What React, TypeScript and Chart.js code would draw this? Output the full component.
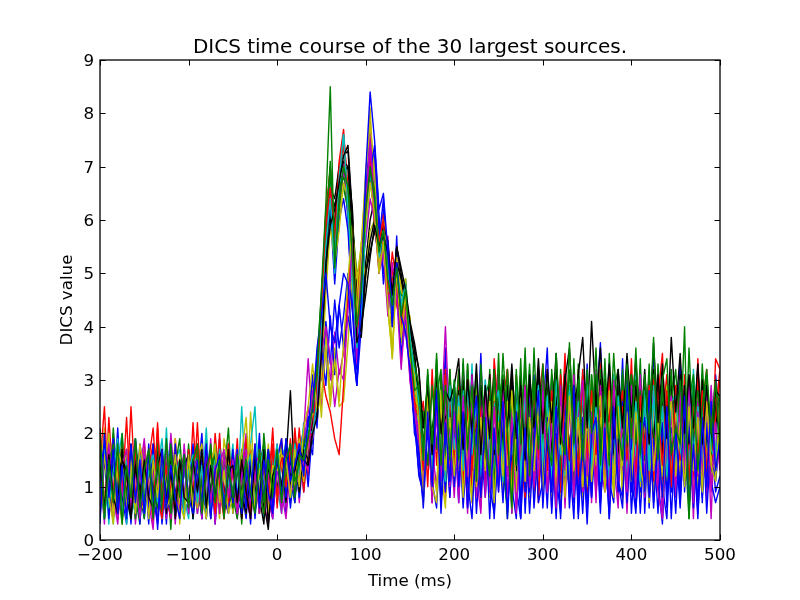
import React, { useEffect, useRef } from "react";
import { Chart, registerables } from "chart.js";

Chart.register(...registerables);

// Time axis: one sample every 5 ms from -200 to 500 ms (141 samples)
const times: number[] = Array.from({ length: 141 }, (_, i) => -200 + 5 * i);

const xTicks = [-200, -100, 0, 100, 200, 300, 400, 500];
const yTicks = [0, 1, 2, 3, 4, 5, 6, 7, 8, 9];
const titleText = "DICS time course of the 30 largest sources.";
const xLabel = "Time (ms)";
const yLabel = "DICS value";
const colorCycle = ["#0000ff", "#008000", "#ff0000", "#00bfbf", "#bf00bf", "#bfbf00", "#000000"];

const src00 = [
  2.0,0.4,1.6,0.7,2.1,0.5,1.3,0.3,1.7,0.9,
  0.4,1.8,0.6,1.5,0.3,1.2,1.9,0.5,1.4,0.8,
  1.7,0.4,1.1,2.0,0.6,1.5,0.3,1.3,0.7,1.8,
  0.5,1.4,0.9,0.4,1.7,0.8,2.0,0.6,1.4,1.7,
  0.7,1.5,0.5,1.8,1.0,1.6,2.1,1.3,2.6,3.3,
  4.2,6.0,6.8,5.2,6.2,7.0,6.0,4.3,3.6,4.1,
  6.6,7.3,6.8,5.0,6.2,4.7,4.2,5.5,3.9,4.8,
  3.4,3.0,1.8,1.0,3.1,0.9,3.3,1.5,3.6,1.0,
  2.7,1.2,3.3,0.8,2.9,1.6,3.5,1.0,2.6,0.7,
  3.0,1.3,0.6,3.2,1.1,2.8,0.5,2.2,3.1,0.9,
  2.4,3.6,1.2,2.9,0.6,3.3,1.5,0.4,2.7,1.1,
  3.3,0.9,2.5,3.7,1.3,0.7,2.9,1.5,3.4,0.8,
  2.8,1.2,3.2,0.5,2.4,3.5,1.1,2.7,0.6,3.0,
  1.4,3.4,0.9,2.6,1.3,3.3,0.7,2.9,1.2,3.1,
  2.2];
const src01 = [
  0.7,1.7,0.5,2.1,1.0,0.3,1.6,0.6,1.9,1.1,
  0.4,1.5,0.9,2.0,0.5,1.4,0.2,1.7,1.0,0.6,
  1.8,0.7,1.5,0.4,1.9,0.9,1.6,0.5,1.2,2.1,
  0.6,1.5,0.3,1.8,0.9,1.4,0.5,2.0,1.0,0.7,
  1.7,0.8,1.9,1.1,0.7,2.0,1.2,2.3,1.8,2.8,
  3.7,5.4,6.5,5.8,6.9,6.6,6.2,5.8,4.9,5.0,
  6.0,6.8,6.1,5.6,5.8,5.0,4.6,5.2,4.4,4.1,
  3.9,2.5,2.8,1.5,2.9,1.2,3.0,1.7,1.1,3.2,
  1.4,2.9,0.9,3.3,1.7,1.2,3.0,1.0,2.8,1.5,
  3.5,1.2,2.7,0.5,3.1,1.4,2.9,1.0,3.6,1.7,
  1.1,3.0,1.6,0.8,3.2,1.9,1.2,3.4,1.4,2.7,
  0.9,3.1,1.5,2.8,1.1,3.5,1.7,1.3,3.2,1.0,
  2.9,1.5,3.4,1.1,2.6,1.3,3.3,1.8,1.0,3.0,
  1.6,2.8,1.2,3.6,1.8,1.3,3.1,0.9,2.7,1.5,
  2.6];
const src02 = [
  1.5,0.6,2.3,1.0,0.4,1.9,0.7,2.5,0.9,0.5,
  1.8,1.1,0.3,2.1,0.7,1.5,0.5,1.9,0.8,1.6,
  0.6,2.2,0.9,0.5,1.8,0.7,2.0,1.0,0.4,1.5,
  0.8,1.9,0.4,1.4,0.7,1.8,0.5,1.5,0.9,2.1,
  0.6,1.6,1.1,1.9,0.8,1.5,2.0,1.2,2.4,3.1,
  4.5,6.2,6.9,5.9,7.1,7.7,6.4,4.9,4.0,5.4,
  6.2,6.9,6.0,5.5,6.1,4.7,5.1,4.4,4.0,4.6,
  3.3,2.4,2.2,2.6,1.0,3.2,1.4,2.6,0.8,2.9,
  1.6,3.2,1.1,2.6,0.7,3.0,1.5,2.8,1.0,3.4,
  2.4,1.3,3.2,0.9,2.7,1.6,0.8,2.9,1.2,2.5,
  3.3,1.5,0.9,2.8,1.7,3.5,1.1,2.5,1.4,3.0,
  0.7,2.6,1.5,3.3,1.2,2.4,3.0,0.8,2.7,1.6,
  3.4,1.2,2.5,1.5,3.1,0.9,2.7,3.5,1.3,2.3,
  2.8,1.0,3.1,1.7,1.3,3.4,1.5,2.6,1.1,3.4,
  3.2];
const src03 = [
  0.5,1.8,1.2,0.3,1.5,2.0,0.6,1.4,0.4,1.6,
  1.1,0.5,1.8,1.3,0.6,2.1,0.4,1.5,1.7,0.7,
  1.4,0.4,1.7,0.9,2.1,0.6,1.4,0.5,1.6,1.0,
  1.8,0.7,2.5,0.9,0.6,1.6,1.2,0.4,1.7,1.3,
  1.0,0.5,1.7,0.9,1.8,1.3,2.2,1.6,2.0,2.7,
  4.0,5.8,6.5,5.1,6.6,7.6,6.1,5.3,4.2,4.4,
  5.8,6.7,6.5,5.2,5.9,5.0,4.3,5.1,4.4,4.6,
  3.7,3.2,2.1,1.3,2.8,1.6,3.0,1.1,2.7,1.7,
  3.0,1.2,2.5,1.5,3.3,0.9,2.8,1.7,1.1,3.1,
  1.3,2.8,1.6,3.1,1.0,2.5,1.4,3.2,0.8,2.7,
  2.5,1.2,3.0,1.6,2.7,1.0,2.9,1.7,0.9,3.2,
  1.7,1.3,2.8,0.9,3.1,1.9,1.2,3.0,1.5,2.6,
  1.4,3.2,1.0,2.9,1.6,2.5,1.1,3.1,1.7,1.2,
  2.6,1.5,2.9,1.1,3.2,1.9,1.4,2.8,1.6,2.5,
  1.7];
const src04 = [
  1.4,0.3,1.9,0.7,1.5,0.4,1.2,1.7,0.6,1.3,
  1.9,0.7,0.2,1.6,0.8,0.5,2.0,0.9,0.4,1.4,
  0.7,1.7,0.5,1.4,0.8,1.9,0.3,1.6,0.6,1.4,
  1.5,0.4,1.3,2.0,0.5,1.2,1.6,0.7,0.3,1.5,
  0.8,1.7,0.6,1.4,1.9,0.7,1.7,2.5,1.9,2.9,
  3.9,5.6,6.7,5.4,6.3,7.1,6.4,4.8,3.5,4.6,
  6.1,7.9,6.0,5.1,5.9,4.4,4.7,5.0,4.0,3.9,
  3.2,2.7,1.5,0.9,2.9,1.7,1.0,2.2,4.0,2.0,
  0.8,2.7,1.5,3.2,1.0,2.5,0.6,2.9,1.2,2.3,
  3.1,1.1,2.6,0.5,2.2,2.9,0.9,2.4,1.3,3.2,
  1.0,2.5,0.6,2.1,3.0,1.2,2.7,0.8,2.3,1.3,
  2.8,0.7,3.2,1.4,0.9,2.6,1.5,0.6,2.9,1.1,
  2.4,1.4,3.1,0.9,2.7,1.2,2.3,0.4,2.6,1.6,
  1.1,2.9,1.5,2.5,0.9,3.2,1.2,2.4,0.4,2.7,
  2.1];
const src05 = [
  1.2,2.1,0.5,1.5,0.6,1.8,1.3,0.4,1.6,0.7,
  1.4,0.6,1.7,0.4,1.3,1.5,0.7,1.9,0.3,1.6,
  1.3,0.5,1.5,1.8,0.7,1.6,1.2,0.4,1.9,1.4,
  0.7,1.7,1.4,0.5,2.4,0.9,1.5,0.6,1.8,0.8,
  1.6,0.9,1.8,0.7,1.7,1.1,1.9,1.7,2.6,2.2,
  3.4,5.3,6.4,5.9,6.0,7.0,6.6,5.6,4.8,5.5,
  6.8,8.1,6.4,5.3,6.0,5.2,4.4,5.4,4.8,4.2,
  4.2,2.6,2.6,1.4,2.6,0.8,3.1,1.3,0.6,2.8,
  1.1,2.4,0.7,2.9,1.4,1.0,2.7,1.6,0.8,3.0,
  1.5,0.9,2.8,1.3,2.3,0.7,2.6,1.4,2.9,1.1,
  2.2,2.7,0.8,2.4,1.3,3.0,0.9,2.2,2.6,1.2,
  2.9,1.0,2.3,1.2,2.7,1.5,0.9,2.8,1.6,2.5,
  1.3,2.6,0.8,3.0,1.5,1.0,2.8,1.3,2.5,1.5,
  2.3,1.2,2.7,1.4,2.6,1.0,2.9,1.6,1.1,2.8,
  1.4];
const src06 = [
  1.3,0.5,1.7,0.8,0.4,1.5,0.7,1.8,0.5,1.4,
  0.7,1.6,0.9,0.4,1.5,0.6,1.7,0.8,1.4,0.5,
  1.5,0.7,1.8,0.6,1.3,0.4,1.6,0.8,1.5,0.6,
  1.4,0.5,1.2,1.6,0.6,1.5,0.8,0.3,1.7,0.9,
  1.6,0.7,1.5,2.8,1.0,1.7,1.4,1.6,2.3,2.5,
  3.6,5.1,6.6,6.4,7.0,7.2,7.3,6.0,4.6,4.2,
  5.2,6.0,6.4,5.9,5.4,5.5,4.5,5.3,4.9,4.4,
  3.9,3.6,2.4,2.3,2.1,2.1,2.6,2.5,1.6,3.0,
  2.0,2.2,2.9,1.3,3.1,1.9,2.1,2.8,1.6,2.7,
  1.7,3.0,1.4,2.6,1.6,3.1,1.3,2.7,1.9,3.2,
  1.5,2.8,1.8,3.2,1.4,2.9,1.7,2.7,1.3,3.1,
  2.6,1.6,3.0,1.8,2.8,1.5,2.9,1.7,2.7,1.4,
  3.1,1.9,1.6,2.9,1.8,3.2,1.5,2.7,1.7,2.9,
  1.9,3.1,1.6,2.8,1.8,3.2,1.4,2.7,1.7,2.6,
  2.5];
const src07 = [
  1.7,0.7,1.5,0.4,1.9,0.8,0.3,1.4,0.6,1.8,
  1.3,0.5,1.6,0.7,1.4,0.3,1.8,0.8,0.6,1.5,
  0.5,1.4,0.8,1.7,0.4,1.5,0.7,1.9,0.9,0.6,
  1.6,0.8,0.5,1.5,0.9,0.6,1.8,1.0,0.5,1.6,
  1.4,0.8,1.6,0.6,1.5,1.8,0.9,1.9,1.6,3.1,
  3.6,4.8,6.2,4.8,6.0,6.4,5.8,4.4,3.2,4.8,
  6.7,7.4,7.2,5.6,6.4,4.9,4.0,5.7,3.7,4.3,
  3.6,2.3,1.2,0.9,2.4,1.3,2.7,0.7,2.1,1.0,
  2.3,0.9,2.6,0.6,1.9,2.4,0.8,2.0,2.7,0.7,
  1.8,2.5,0.5,2.1,1.0,0.4,2.3,1.1,2.6,0.8,
  2.0,0.6,2.4,1.2,0.5,2.2,0.9,2.7,0.4,1.9,
  2.3,0.8,2.0,0.5,2.5,1.1,0.7,2.2,1.0,2.6,
  0.5,1.9,0.9,2.4,0.6,2.0,1.1,0.3,2.2,0.9,
  2.5,0.7,2.1,1.0,2.3,0.5,1.9,0.9,2.4,1.1,
  1.9];
const src08 = [
  0.6,1.6,0.8,2.0,0.5,1.3,1.7,0.7,1.5,0.4,
  1.6,0.8,0.6,1.8,0.9,1.5,0.4,1.4,1.9,0.8,
  0.7,1.7,0.9,0.5,1.5,0.8,1.8,0.6,1.4,1.6,
  0.8,0.4,1.6,0.9,1.7,0.7,1.4,1.8,0.6,1.5,
  0.9,1.8,0.8,1.6,1.0,1.9,1.3,2.2,2.1,3.4,
  4.6,5.9,7.0,5.5,6.5,6.8,6.7,5.9,5.0,5.2,
  6.1,6.8,6.4,5.4,5.7,5.3,4.7,4.7,4.3,4.9,
  3.7,3.2,2.5,2.4,1.4,2.9,1.7,3.1,1.3,2.6,
  2.9,1.5,2.5,1.1,3.0,1.7,2.7,1.2,3.2,1.6,
  2.6,3.1,1.2,2.4,2.8,1.4,3.3,1.9,1.3,2.9,
  1.8,1.3,3.1,2.6,1.2,2.8,1.6,3.0,1.9,1.5,
  2.9,1.8,1.4,3.2,2.0,1.3,2.8,1.9,3.1,1.6,
  2.0,3.0,1.5,2.7,1.3,3.1,1.8,2.8,1.4,2.6,
  3.2,1.7,2.8,1.5,2.9,1.9,1.6,3.0,2.0,1.7,
  2.7];
const src09 = [
  1.4,2.5,0.7,1.6,0.4,1.9,0.8,1.5,0.5,1.7,
  0.7,1.4,1.8,0.6,1.5,0.8,0.4,1.6,0.9,0.6,
  1.7,0.8,2.2,0.6,1.4,0.5,1.6,0.9,0.7,1.8,
  0.6,1.5,0.8,1.9,0.4,1.3,1.6,0.7,1.4,0.5,
  1.5,1.9,0.8,1.7,1.0,2.1,0.9,1.8,2.2,2.8,
  4.3,6.0,7.0,5.6,7.0,7.6,6.6,5.2,4.2,4.5,
  5.9,7.3,5.8,5.5,5.6,4.5,5.4,4.8,4.1,4.8,
  3.4,2.5,2.5,1.5,2.9,1.0,3.2,1.7,1.2,3.0,
  1.3,2.8,1.7,0.8,2.9,1.5,2.5,0.9,3.1,1.2,
  2.8,1.6,3.0,1.1,2.4,2.7,1.3,2.9,0.9,2.6,
  1.5,3.2,1.2,2.5,1.6,1.0,2.7,1.4,3.2,1.1,
  2.5,1.4,2.9,1.0,2.2,3.0,1.2,2.6,1.5,2.9,
  1.1,2.8,1.6,2.5,1.0,3.0,1.4,2.3,3.1,1.2,
  2.4,1.3,3.0,1.6,2.7,1.2,2.5,3.2,1.4,2.4,
  3.2];
const src10 = [
  0.7,1.5,0.3,1.8,0.8,0.6,1.6,0.4,1.4,0.8,
  1.5,0.5,1.3,1.7,0.4,1.4,0.7,1.6,0.5,1.3,
  0.8,1.5,0.5,1.6,0.9,0.6,1.4,1.7,0.5,1.2,
  1.5,0.7,1.4,0.6,1.8,2.5,0.7,1.3,0.5,1.6,
  0.8,1.5,1.8,0.9,1.6,0.8,1.8,1.6,2.2,2.6,
  4.0,5.6,6.8,5.0,6.7,7.6,6.2,5.1,3.8,4.4,
  6.0,6.9,6.2,5.8,5.3,5.1,4.4,5.2,4.3,4.4,
  3.6,3.2,2.0,1.5,2.7,1.3,2.6,1.6,1.0,2.8,
  1.6,2.6,1.2,3.1,1.4,2.4,1.1,2.9,1.7,1.3,
  2.7,1.5,2.4,1.2,2.9,1.7,1.0,2.8,1.6,2.5,
  1.3,2.6,1.6,2.9,1.1,2.4,2.8,1.4,2.6,1.6,
  2.7,1.3,2.5,1.6,3.0,1.1,2.3,2.7,1.3,2.8,
  1.6,2.5,1.2,2.7,1.7,1.4,2.9,1.5,2.6,1.3,
  2.8,1.5,2.5,1.3,2.7,1.7,2.9,1.2,2.5,1.6,
  2.6];
const src11 = [
  1.6,0.6,1.3,1.9,0.4,1.4,0.7,1.7,0.3,1.3,
  0.6,1.7,0.4,1.2,1.6,0.7,1.4,0.3,1.5,0.8,
  1.4,0.6,1.6,0.4,1.5,0.8,0.6,1.8,0.8,0.5,
  1.3,1.7,0.6,1.4,0.5,1.6,0.7,1.5,0.4,1.2,
  1.8,0.6,1.6,0.8,1.5,1.0,2.0,3.4,2.1,3.2,
  2.5,3.6,3.0,3.9,3.1,3.5,4.6,5.6,3.9,5.2,
  5.6,6.4,6.0,5.6,5.0,5.7,4.3,5.0,3.9,4.7,
  3.0,2.2,1.9,1.1,2.5,0.7,2.9,1.2,2.3,0.8,
  2.7,1.4,3.2,0.9,2.4,1.2,0.5,2.6,1.3,2.9,
  1.0,2.3,1.2,3.0,0.7,2.5,1.5,0.9,2.8,1.4,
  2.5,1.1,2.9,1.5,0.8,2.7,1.3,3.1,1.0,2.3,
  1.3,2.8,0.8,2.3,1.4,2.9,1.0,2.4,1.2,3.1,
  2.1,0.9,2.7,1.4,2.9,0.8,2.5,1.3,2.8,1.0,
  2.4,1.4,2.9,1.0,2.3,1.2,2.7,0.7,2.2,3.0,
  1.4];
const src12 = [
  0.5,1.4,2.0,0.7,1.5,0.3,1.7,0.8,1.4,0.6,
  1.7,0.8,0.5,1.5,0.7,1.8,0.9,0.6,1.6,0.4,
  1.5,0.8,0.6,1.7,0.7,1.4,1.8,0.5,1.3,1.5,
  0.5,1.6,0.9,0.7,1.4,0.6,1.7,0.8,1.5,0.7,
  1.4,1.7,0.7,1.5,0.9,1.6,1.2,1.6,2.9,3.3,
  2.3,3.9,2.7,3.6,2.5,2.6,3.7,5.1,4.5,5.6,
  4.9,5.8,6.0,5.1,5.5,4.3,3.5,5.1,3.7,4.9,
  3.5,2.9,2.2,1.2,2.8,0.9,2.6,0.7,3.1,1.2,
  2.4,1.0,2.9,1.5,0.7,2.7,1.3,2.5,0.9,3.0,
  2.2,1.1,2.6,0.6,2.3,1.3,2.8,0.8,2.1,2.7,
  1.0,2.4,1.4,2.8,0.7,2.2,1.1,2.6,1.5,0.8,
  2.7,1.2,2.3,0.9,2.9,1.5,1.0,2.5,0.7,2.3,
  1.2,2.9,1.0,2.2,0.7,2.6,1.4,2.4,1.1,2.8,
  0.9,2.3,1.3,2.7,0.8,2.2,2.6,1.1,2.3,1.2,
  2.2];
const src13 = [
  1.5,0.6,1.4,0.4,1.7,0.7,1.3,0.5,1.6,0.8,
  0.5,1.4,0.7,1.7,0.6,1.3,1.5,0.4,1.2,1.6,
  1.3,0.4,1.5,0.7,1.6,0.5,1.2,1.4,0.6,1.7,
  0.7,1.4,0.4,1.2,1.5,0.5,1.3,0.7,0.2,1.4,
  0.9,1.6,0.7,1.5,0.8,1.8,1.3,1.5,2.1,2.3,
  3.4,5.0,6.0,6.3,6.6,6.9,7.0,6.2,4.2,3.9,
  5.0,5.4,5.8,5.3,5.9,5.2,4.6,5.5,5.0,4.5,
  4.0,3.6,3.2,1.6,2.5,1.4,2.8,1.8,1.9,2.1,
  2.8,1.7,3.0,1.4,2.6,1.6,2.9,1.3,2.7,1.8,
  1.5,2.7,1.8,3.1,1.3,2.6,1.7,3.0,1.6,2.5,
  2.9,1.6,2.6,1.4,2.8,1.9,1.5,2.9,1.7,2.7,
  1.6,2.7,1.7,3.0,1.4,2.6,2.9,1.5,2.5,2.8,
  1.8,1.5,2.8,1.7,3.1,1.4,2.6,1.7,2.9,1.6,
  2.7,1.8,1.4,2.9,1.7,2.6,1.5,2.8,1.8,2.5,
  1.5];
const src14 = [
  1.3,1.8,0.4,1.4,0.7,1.6,0.5,1.2,1.9,0.6,
  1.4,0.3,1.6,0.8,0.5,1.5,0.7,1.8,0.6,1.3,
  1.6,0.7,1.3,0.4,1.7,0.8,0.6,1.5,0.5,1.4,
  0.8,1.6,0.6,1.3,0.3,1.5,0.7,1.4,0.8,0.4,
  1.7,0.9,1.5,0.7,1.6,0.8,1.9,1.0,2.1,3.5,
  3.0,4.1,3.3,4.5,3.6,4.2,5.0,4.3,2.9,4.0,
  6.2,7.6,7.0,5.8,5.0,5.6,4.1,4.9,3.5,4.1,
  3.3,2.2,1.3,0.8,2.3,1.1,0.6,2.1,0.9,2.5,
  1.0,2.2,0.6,1.9,2.4,0.5,1.8,0.8,2.3,0.4,
  1.9,0.7,2.5,1.0,0.4,2.2,0.9,2.7,0.6,1.8,
  2.4,0.9,2.0,0.4,2.2,1.1,2.6,0.7,1.8,0.5,
  2.1,0.8,2.7,1.0,2.0,0.6,2.3,1.1,0.8,2.5,
  0.9,2.2,0.5,1.9,2.5,0.7,2.0,1.0,0.4,2.1,
  1.8,0.6,2.3,0.9,2.0,0.7,2.4,0.5,1.9,0.9,
  1.2];
const src15 = [
  1.2,0.4,1.7,1.4,0.6,2.0,0.5,1.5,0.8,0.3,
  1.5,0.7,1.3,1.8,0.5,1.2,1.6,0.6,1.4,0.7,
  0.6,1.6,0.8,1.4,0.5,1.8,0.9,0.7,1.6,0.8,
  1.4,0.6,1.7,0.7,1.3,1.5,0.5,1.6,0.9,0.6,
  1.5,0.8,1.7,1.0,1.9,0.9,1.8,2.1,2.0,3.1,
  4.3,5.7,6.9,5.2,6.2,7.0,6.2,5.0,4.0,4.6,
  6.1,6.9,6.6,5.5,5.9,4.7,4.9,5.1,4.2,4.4,
  3.5,2.7,2.7,1.2,3.0,1.5,3.5,1.8,1.1,3.2,
  1.5,2.9,1.2,3.3,1.7,1.1,3.0,1.6,2.7,0.9,
  3.1,1.7,0.4,2.8,1.6,3.4,1.2,2.5,3.0,1.3,
  2.7,1.0,3.2,1.8,1.3,2.9,1.7,1.1,3.3,1.9,
  1.2,3.1,1.9,1.4,3.4,1.6,2.7,1.0,2.9,1.8,
  3.0,1.3,2.6,1.6,3.3,1.1,2.8,1.9,1.2,3.1,
  1.6,2.9,1.1,2.6,3.1,1.4,3.3,1.8,1.3,2.8,
  2.3];
const src16 = [
  1.8,0.7,1.4,0.5,1.6,0.9,2.3,0.6,1.5,0.8,
  0.6,1.5,2.1,0.8,0.4,1.4,0.7,1.7,0.9,0.5,
  1.4,0.7,1.7,0.9,0.6,1.5,0.8,2.0,0.4,1.3,
  1.6,0.6,1.4,0.8,1.7,0.7,1.5,0.5,1.3,1.8,
  0.7,1.4,1.7,0.9,2.1,1.2,1.4,1.3,2.5,2.4,
  3.2,2.7,2.4,1.9,1.6,2.9,4.6,5.9,4.3,5.4,
  6.0,6.7,6.2,5.3,5.9,4.6,5.0,5.2,3.9,4.5,
  3.3,2.5,2.3,1.3,3.0,1.1,2.5,1.5,3.2,1.0,
  2.3,2.9,1.3,2.5,0.9,3.1,1.6,2.6,1.1,2.8,
  1.4,2.6,3.2,1.2,2.3,1.0,2.9,1.5,2.5,0.7,
  2.8,1.4,2.5,1.1,3.1,1.6,1.0,2.7,1.3,3.0,
  1.6,2.7,1.1,2.5,1.4,3.2,1.2,2.3,2.8,1.3,
  2.6,0.9,2.9,1.5,2.4,1.2,3.0,1.0,2.7,1.7,
  1.3,2.7,1.6,2.5,1.2,3.1,1.5,2.6,1.4,2.3,
  3.0];
const src17 = [
  1.4,0.4,1.2,1.7,0.6,1.5,0.3,1.3,1.6,0.7,
  0.8,1.6,0.6,1.3,1.9,0.7,1.4,0.5,1.5,0.8,
  0.4,1.4,1.6,0.7,1.3,0.5,1.7,0.8,1.4,0.7,
  1.5,0.8,0.6,1.7,0.9,0.7,1.4,0.6,1.6,0.8,
  1.4,0.7,1.8,0.8,1.7,1.1,1.7,1.8,1.9,2.5,
  3.5,5.2,6.6,5.1,6.5,7.5,6.3,5.0,4.0,4.5,
  6.3,7.0,6.2,5.3,6.0,4.8,4.4,5.2,4.5,4.6,
  3.8,2.7,2.7,1.4,2.5,1.2,2.9,1.6,1.1,2.7,
  2.5,1.4,2.8,1.0,2.7,1.6,0.9,3.0,1.3,2.6,
  2.3,1.1,2.9,1.5,2.6,0.9,2.8,1.6,1.2,2.9,
  1.5,2.8,1.0,2.5,1.6,3.0,1.2,2.4,1.4,2.7,
  2.5,1.3,2.9,1.1,2.6,1.6,3.1,1.3,2.4,1.2,
  2.8,1.6,1.1,2.6,1.4,2.9,1.2,2.5,1.5,2.7,
  1.4,2.6,1.7,1.2,2.9,1.5,2.5,1.1,2.8,1.6,
  2.4];
const src18 = [
  0.6,1.5,0.8,0.4,1.8,0.9,0.5,1.6,0.7,1.4,
  1.6,0.5,1.3,0.7,1.7,0.4,1.4,0.8,0.5,1.8,
  0.8,1.5,0.5,1.3,0.7,1.6,0.4,1.4,1.7,0.7,
  1.3,0.5,1.5,0.8,0.4,1.4,1.6,0.7,1.3,0.5,
  1.6,0.9,0.4,1.4,0.8,1.7,1.2,1.8,1.9,2.6,
  3.6,5.5,6.6,5.6,6.4,6.9,6.4,5.0,3.3,4.7,
  6.2,7.7,6.2,5.4,5.7,4.5,4.8,5.3,3.8,4.1,
  3.0,2.4,2.1,1.0,2.7,0.7,3.0,1.3,2.5,0.9,
  2.9,1.1,2.3,0.5,2.6,1.4,3.2,0.8,2.1,2.8,
  0.9,2.9,1.3,2.4,0.6,2.7,1.1,3.1,1.0,2.3,
  3.0,0.9,2.3,1.2,2.8,0.6,2.5,1.4,2.9,0.9,
  1.1,2.5,0.7,2.9,1.6,0.9,2.7,1.3,2.3,0.5,
  2.5,1.2,3.0,0.8,2.3,2.7,1.0,3.1,1.3,2.4,
  0.8,2.8,1.2,2.3,0.4,2.6,1.6,1.1,2.9,1.4,
  2.6];
const src19 = [
  1.5,0.7,1.7,0.4,1.3,1.6,0.6,1.2,1.8,0.5,
  0.7,1.5,0.8,0.5,1.7,0.9,0.6,1.4,0.4,1.6,
  0.8,1.7,0.6,1.4,1.5,0.7,1.3,0.5,1.6,0.8,
  1.4,0.6,1.6,2.3,0.8,0.5,1.4,1.6,0.7,1.3,
  0.8,1.5,0.9,1.7,1.0,1.9,1.1,1.9,2.4,2.2,
  3.1,4.6,5.9,5.2,5.8,6.7,6.4,5.8,4.9,5.5,
  6.9,7.8,6.9,5.2,6.0,5.4,3.4,5.3,4.7,4.0,
  3.6,2.6,2.4,1.1,2.9,1.4,0.9,2.8,1.6,1.1,
  2.7,1.2,2.5,1.5,0.8,2.9,1.1,2.3,1.4,2.8,
  1.1,2.4,1.4,2.8,0.9,2.2,2.7,1.0,2.5,1.3,
  2.3,1.2,2.7,0.9,2.5,1.5,1.0,2.8,1.3,2.3,
  1.0,2.6,1.4,2.3,1.1,2.8,0.8,2.4,1.4,2.7,
  2.1,1.0,2.5,1.3,2.7,0.9,2.3,1.2,2.9,1.1,
  2.5,1.3,2.2,1.0,2.6,1.4,0.9,2.7,1.5,1.3,
  2.3];
const src20 = [
  1.2,1.6,0.6,1.4,0.7,1.7,0.8,0.4,1.5,0.9,
  1.4,0.6,1.5,0.8,1.6,0.5,1.3,1.5,0.7,1.4,
  1.6,0.8,1.4,0.6,1.5,0.9,0.7,1.6,0.8,1.4,
  0.7,1.5,0.9,0.5,1.4,0.8,1.6,0.6,1.4,0.8,
  1.5,0.8,1.7,1.0,1.6,0.9,1.7,1.5,2.2,2.4,
  3.7,5.3,6.4,5.9,6.8,7.1,7.0,5.7,3.9,3.8,
  5.0,5.6,6.0,5.4,5.9,5.6,4.6,5.2,4.9,4.6,
  4.0,3.4,2.8,1.8,2.7,1.6,2.9,2.0,2.3,2.5,
  1.8,2.8,1.6,3.0,1.9,2.1,2.9,1.8,3.1,1.6,
  2.7,1.8,2.9,1.5,2.8,1.9,1.6,3.0,1.7,2.7,
  1.9,3.0,1.6,2.7,1.8,3.1,1.5,2.6,2.9,1.7,
  2.8,1.7,2.7,1.5,3.0,1.9,1.6,2.9,1.8,2.7,
  1.7,2.9,1.9,1.5,2.8,1.8,3.1,1.6,2.6,2.9,
  1.9,1.6,2.9,1.8,2.7,1.5,3.0,1.9,1.7,2.8,
  1.8];
const src21 = [
  0.4,1.6,0.7,1.9,0.8,0.5,1.5,0.7,1.8,0.3,
  1.5,0.6,1.8,0.2,1.4,0.8,0.5,1.7,0.8,1.5,
  0.6,1.8,0.8,1.5,0.4,1.6,0.7,1.4,0.8,0.5,
  1.7,0.8,1.4,0.6,1.6,0.4,1.5,0.8,1.7,0.6,
  1.5,1.9,0.8,1.6,0.7,1.8,1.3,2.0,3.1,2.1,
  3.6,2.9,4.2,3.1,4.4,3.6,4.2,3.7,2.9,4.6,
  6.0,6.9,7.4,6.1,4.8,5.6,4.0,4.8,3.4,4.2,
  3.5,2.0,1.7,0.6,2.1,0.9,2.6,0.5,2.0,0.8,
  2.2,0.7,2.5,1.1,0.4,2.1,0.8,2.8,1.0,0.5,
  1.9,2.6,0.6,1.8,2.2,0.4,2.0,0.9,2.4,0.7,
  1.1,2.3,0.5,2.0,1.0,2.7,0.6,1.9,0.8,2.3,
  0.6,1.9,2.4,0.7,1.8,0.4,2.2,0.9,2.6,0.7,
  2.0,0.6,1.7,2.3,0.8,1.9,0.5,2.2,0.9,1.8,
  0.5,2.1,1.0,2.3,0.6,1.8,0.8,2.2,1.1,0.7,
  1.0];
const src22 = [
  1.7,0.6,1.3,1.8,0.5,1.4,0.8,1.6,0.4,1.5,
  0.7,1.7,0.9,0.6,1.5,0.8,1.8,0.7,1.4,0.5,
  1.5,0.6,1.7,1.0,0.7,1.3,1.6,0.6,1.5,0.9,
  0.6,1.4,0.8,1.6,0.7,1.7,0.9,0.5,1.5,0.8,
  1.6,1.0,1.2,1.8,1.1,1.4,1.8,2.0,2.5,3.2,
  4.4,5.8,7.1,5.7,6.6,6.8,6.6,5.5,4.4,4.9,
  6.0,7.0,6.5,5.4,5.8,5.0,4.9,4.8,4.6,4.5,
  3.7,3.3,2.9,1.7,3.1,1.6,2.7,3.2,1.4,2.9,
  2.0,3.2,1.4,2.8,1.8,3.1,1.3,2.7,3.0,1.7,
  2.9,1.6,3.2,2.0,1.4,2.8,1.9,3.3,1.5,2.7,
  1.8,3.1,2.0,1.4,2.9,1.7,3.2,1.9,1.5,3.0,
  2.7,1.6,3.1,1.9,2.9,1.4,2.8,3.2,1.7,2.6,
  3.1,1.8,2.8,1.5,3.0,2.0,1.6,2.9,1.9,3.2,
  1.7,3.0,1.9,0.4,2.1,2.8,2.0,3.1,1.6,2.9,
  2.5];
const src23 = [
  1.3,0.5,1.7,0.7,1.5,0.4,1.4,0.8,1.7,0.6,
  1.5,0.8,0.5,2.2,0.7,1.6,0.9,0.6,1.5,0.8,
  0.7,1.4,1.8,0.6,1.2,1.6,0.5,1.5,0.9,0.7,
  1.4,0.6,1.5,0.9,0.5,1.6,0.8,1.4,0.6,1.7,
  0.8,1.6,1.0,1.7,1.3,1.5,1.4,1.9,2.0,3.0,
  4.2,5.9,6.6,5.7,6.9,7.4,6.3,4.9,3.7,4.7,
  6.1,7.1,6.3,5.6,6.0,4.7,4.9,4.8,4.0,4.7,
  3.5,2.6,2.4,1.3,2.8,1.0,2.9,1.6,1.2,2.7,
  1.5,2.7,1.0,3.0,1.3,2.5,0.8,2.8,1.6,2.6,
  1.2,2.9,1.7,1.0,3.1,1.4,2.6,1.1,2.8,1.5,
  2.6,1.3,2.8,1.6,0.9,2.9,1.5,2.5,1.2,3.2,
  1.4,2.8,1.6,2.7,1.0,2.3,2.9,1.2,2.5,1.5,
  2.3,1.2,2.7,1.6,2.9,1.1,2.4,1.4,2.8,1.0,
  2.9,1.5,2.6,1.1,2.5,1.6,2.8,1.3,2.3,2.7,
  2.0];
const src24 = [
  0.8,1.7,0.6,1.3,1.9,0.4,1.5,0.8,0.5,1.6,
  0.5,1.3,1.6,0.7,1.4,1.7,0.6,1.2,1.5,0.4,
  1.3,1.6,0.7,1.4,0.5,1.5,0.8,1.7,0.6,1.4,
  0.8,1.5,0.6,1.3,1.6,0.7,1.4,1.7,0.5,1.2,
  1.8,1.0,1.6,0.8,1.8,1.2,1.5,2.1,2.0,2.6,
  3.9,5.5,6.4,5.1,6.8,7.6,6.2,4.8,3.6,4.3,
  5.9,6.7,6.4,5.3,5.8,5.0,4.3,5.1,4.4,4.8,
  3.8,3.1,2.6,1.5,2.6,1.3,3.0,1.8,1.2,2.9,
  1.7,2.7,1.3,2.9,1.6,2.6,1.2,3.0,1.5,2.5,
  2.8,1.4,2.5,1.6,3.0,1.2,2.7,1.7,1.4,2.9,
  1.6,2.7,1.3,3.0,1.8,1.2,2.8,1.5,2.6,1.7,
  2.9,1.5,2.5,1.3,2.8,1.8,1.4,2.7,1.7,2.9,
  1.4,2.6,1.7,2.8,1.3,2.7,1.6,2.5,1.2,2.6,
  2.7,1.7,1.3,2.8,1.6,2.5,1.4,2.9,1.7,1.5,
  2.5];
const src25 = [
  1.5,0.5,1.8,0.8,0.3,1.4,1.7,0.6,1.3,0.4,
  1.7,0.8,0.5,1.5,0.7,1.8,0.4,1.4,0.6,1.5,
  0.5,1.3,1.5,0.4,1.7,0.7,1.4,0.5,1.6,0.8,
  1.5,0.5,1.2,1.7,0.7,1.3,0.5,1.5,0.8,0.4,
  1.4,0.5,1.7,0.9,1.0,1.2,1.5,1.3,2.8,2.5,
  3.5,4.0,3.4,2.5,3.2,3.0,4.3,5.6,3.8,5.3,
  6.0,7.4,6.0,5.0,5.4,4.2,5.2,4.6,3.2,4.3,
  3.3,2.3,2.0,0.9,2.6,0.7,2.4,1.1,2.9,1.0,
  2.4,0.7,2.7,1.2,3.1,0.8,2.2,2.8,0.9,2.5,
  1.1,3.0,0.8,2.3,0.5,2.1,2.9,1.0,2.5,1.2,
  2.8,0.9,2.2,0.6,2.9,1.3,2.6,0.8,2.3,3.0,
  1.2,2.4,0.9,2.8,1.4,0.7,3.0,1.1,2.3,0.9,
  2.9,0.8,2.3,1.2,2.6,1.5,0.9,0.4,2.2,2.7,
  1.0,2.5,1.3,3.0,0.7,2.4,1.2,2.8,0.9,2.2,
  1.3];
const src26 = [
  0.7,1.6,0.8,0.3,1.7,1.4,0.6,1.5,0.5,1.8,
  1.3,0.4,1.5,0.8,1.7,0.6,0.8,1.6,0.7,0.4,
  1.6,0.6,1.4,0.8,0.4,1.5,1.7,0.7,1.3,0.5,
  0.8,1.6,0.7,1.4,1.8,0.6,1.3,1.5,0.5,1.4,
  1.3,1.6,1.5,0.8,1.7,1.0,2.1,2.5,3.3,2.4,
  2.7,3.6,2.5,3.4,2.6,3.7,4.9,5.9,4.2,5.3,
  5.9,6.7,6.1,5.0,5.6,4.4,3.4,5.1,3.8,4.6,
  3.4,3.1,2.2,0.7,2.7,1.0,0.7,2.5,1.3,2.3,
  1.2,2.5,0.8,2.1,2.8,1.0,2.3,1.3,2.6,0.7,
  2.2,1.2,2.6,0.8,2.1,2.8,1.1,2.3,1.3,2.5,
  0.9,2.1,2.6,1.2,2.2,0.8,2.7,1.3,2.3,1.0,
  2.3,1.1,2.1,2.7,0.9,2.2,1.2,2.5,1.0,2.4,
  1.1,2.4,1.4,0.9,2.7,1.3,2.3,0.8,2.1,2.6,
  1.2,2.2,1.0,2.5,1.3,2.3,0.9,2.6,1.4,1.1,
  2.6];
const src27 = [
  1.4,0.6,1.6,0.8,0.5,1.5,1.3,0.4,1.4,0.7,
  1.5,0.8,0.6,1.4,1.7,0.7,1.3,0.5,1.5,0.8,
  0.7,1.5,0.9,1.7,0.6,1.4,0.8,1.5,0.5,1.3,
  1.4,0.7,1.5,0.9,0.4,1.6,0.7,1.7,0.3,1.2,
  1.5,1.0,1.8,1.2,1.3,1.7,1.5,1.4,2.0,2.3,
  3.5,5.2,5.9,6.2,6.7,7.2,7.4,6.1,3.7,4.0,
  4.6,5.3,5.9,5.5,5.7,5.4,4.6,5.5,5.1,4.7,
  4.1,3.7,3.2,2.1,2.9,1.6,3.1,2.0,2.8,2.6,
  2.9,3.4,1.7,3.0,2.0,3.3,1.6,2.9,1.9,3.2,
  1.8,3.0,2.1,3.3,1.9,2.9,1.5,3.1,2.1,3.4,
  2.0,3.2,2.2,3.5,1.8,3.0,3.6,2.0,3.1,3.8,
  2.1,4.1,2.5,3.6,2.2,3.3,1.9,3.2,2.1,3.5,
  2.3,3.4,2.0,3.2,1.8,3.7,2.2,3.3,1.9,3.8,
  2.4,3.5,2.0,3.1,2.1,3.3,1.8,2.9,2.0,2.8,
  2.7];
const src28 = [
  0.3,2.0,0.8,1.7,0.5,1.4,0.4,1.8,0.7,1.5,
  0.5,1.6,0.8,0.3,1.7,0.6,1.4,0.8,0.4,1.6,
  0.8,0.5,1.5,0.7,1.8,0.4,1.3,1.6,0.6,1.4,
  0.7,1.7,0.5,1.4,0.8,1.8,0.6,1.5,0.9,0.5,
  1.6,0.8,1.9,1.1,1.4,1.8,1.2,2.3,2.4,3.6,
  4.2,5.0,4.0,3.7,4.4,5.0,4.8,3.6,2.9,4.6,
  6.9,8.4,7.5,6.2,6.5,5.4,4.3,5.2,4.2,3.9,
  3.2,2.2,1.6,0.7,2.4,1.0,2.8,0.7,2.2,1.1,
  2.9,1.0,2.4,0.6,2.0,2.7,0.8,2.3,0.4,2.1,
  0.9,2.6,0.4,1.9,2.4,0.7,2.1,0.5,1.8,2.8,
  0.6,2.0,0.9,2.5,0.4,2.2,0.8,2.9,0.5,1.9,
  0.3,2.0,2.3,0.7,2.1,0.4,2.5,1.1,0.6,3.0,
  1.2,0.5,2.2,0.9,2.8,0.6,1.9,0.8,2.5,0.4,
  2.1,0.9,2.7,0.6,1.8,0.4,2.3,1.0,2.6,1.3,
  1.9];
const src29 = [
  2.1,0.4,1.5,0.7,1.8,0.3,1.4,0.8,1.9,0.6,
  1.3,1.7,0.4,1.5,0.7,1.9,0.5,1.4,0.8,1.6,
  0.6,1.5,1.8,0.5,1.3,1.7,0.7,1.5,0.4,1.4,
  0.8,1.6,0.6,1.5,0.9,0.5,1.7,0.7,1.5,0.9,
  1.7,0.7,1.5,1.8,0.8,1.6,1.5,1.9,2.5,3.1,
  4.7,6.3,8.5,5.1,6.4,7.0,6.6,5.3,4.0,4.7,
  6.2,7.0,6.4,5.4,5.8,4.9,4.4,5.1,4.2,4.7,
  3.6,2.8,2.9,1.5,3.2,1.8,3.4,1.4,2.9,1.5,
  3.0,1.5,3.4,1.7,2.9,1.1,3.3,1.9,1.2,3.2,
  1.6,3.5,2.0,0.6,3.2,1.8,3.6,1.2,2.9,1.7,
  3.3,1.9,1.4,3.5,2.0,1.6,3.7,1.8,3.0,1.5,
  3.2,2.0,3.6,1.4,3.0,1.7,3.5,2.1,1.5,3.3,
  1.9,3.6,1.6,3.1,2.0,3.8,1.5,3.0,3.4,1.6,
  2.1,1.8,4.0,0.4,2.9,1.3,2.5,3.2,2.0,3.0,
  1.7];

const allSources = [
  src00, src01, src02, src03, src04, src05, src06, src07, src08, src09,
  src10, src11, src12, src13, src14, src15, src16, src17, src18, src19,
  src20, src21, src22, src23, src24, src25, src26, src27, src28, src29,
];

const FONT = '"DejaVu Sans", "Liberation Sans", sans-serif';

const mplAxes = {
  id: "mplAxes",
  afterDatasetsDraw(chart: any) {
    const { ctx, chartArea: a, scales } = chart;
    const xs = scales.x;
    const ys = scales.y;
    ctx.save();
    ctx.strokeStyle = "#000";
    ctx.lineWidth = 1;
    const tl = 5.5;
    ctx.beginPath();
    xTicks.forEach((v) => {
      const px = Math.round(xs.getPixelForValue(v)) + 0.5;
      ctx.moveTo(px, a.bottom);
      ctx.lineTo(px, a.bottom - tl);
      ctx.moveTo(px, a.top);
      ctx.lineTo(px, a.top + tl);
    });
    yTicks.forEach((v) => {
      const py = Math.round(ys.getPixelForValue(v)) + 0.5;
      ctx.moveTo(a.left, py);
      ctx.lineTo(a.left + tl, py);
      ctx.moveTo(a.right, py);
      ctx.lineTo(a.right - tl, py);
    });
    ctx.stroke();
    ctx.lineWidth = 1.3;
    ctx.strokeRect(a.left, a.top, a.right - a.left, a.bottom - a.top);

    ctx.fillStyle = "#000";
    ctx.font = `16.7px ${FONT}`;
    ctx.textAlign = "center";
    ctx.textBaseline = "alphabetic";
    xTicks.forEach((v) => {
      const label = v < 0 ? "\u2212" + Math.abs(v) : String(v);
      ctx.fillText(label, xs.getPixelForValue(v), a.bottom + 20);
    });
    ctx.textAlign = "right";
    yTicks.forEach((v) => {
      ctx.fillText(String(v), a.left - 6, ys.getPixelForValue(v) + 6);
    });
    ctx.textAlign = "center";
    ctx.fillText(xLabel, (a.left + a.right) / 2, a.bottom + 46);
    ctx.save();
    ctx.translate(72, (a.top + a.bottom) / 2);
    ctx.rotate(-Math.PI / 2);
    ctx.fillText(yLabel, 0, 0);
    ctx.restore();
    ctx.font = `20px ${FONT}`;
    ctx.fillText(titleText, (a.left + a.right) / 2, a.top - 7);
    ctx.restore();
  },
};

export default function App() {
  const canvasRef = useRef<HTMLCanvasElement | null>(null);
  useEffect(() => {
    const canvas = canvasRef.current;
    if (!canvas) return;
    const datasets = allSources.map((src, k) => ({
      label: `source ${k + 1}`,
      data: src.map((v, i) => ({ x: times[i], y: v })),
      borderColor: colorCycle[k % colorCycle.length],
      backgroundColor: colorCycle[k % colorCycle.length],
      borderWidth: 1.4,
      borderJoinStyle: "round" as const,
      pointRadius: 0,
      pointHoverRadius: 0,
      fill: false,
      tension: 0,
      order: allSources.length - 1 - k,
    }));
    const chart = new Chart(canvas, {
      type: "line",
      data: { datasets },
      options: {
        animation: false,
        responsive: false,
        devicePixelRatio: 1,
        events: [],
        layout: { padding: { left: 100, right: 80, top: 60, bottom: 60 } },
        scales: {
          x: { type: "linear", min: -200, max: 500, display: false },
          y: { type: "linear", min: 0, max: 9, display: false },
        },
        plugins: { legend: { display: false }, tooltip: { enabled: false }, title: { display: false } },
      },
      plugins: [mplAxes],
    });
    return () => chart.destroy();
  }, []);
  return (
    <div style={{ position: "fixed", left: 0, top: 0, width: 800, height: 600, background: "#fff" }}>
      <canvas ref={canvasRef} width={800} height={600} style={{ display: "block" }} />
    </div>
  );
}
